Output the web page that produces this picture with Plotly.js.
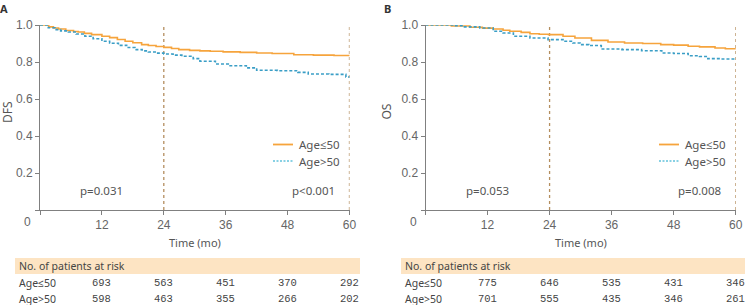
<!DOCTYPE html>
<html>
<head>
<meta charset="utf-8">
<script src="https://cdn.plot.ly/plotly-3.0.1.min.js"></script>
<style>
  html, body { margin: 0; padding: 0; background: #fff; }
  #chart { width: 745px; height: 305px; }
</style>
</head>
<body>
<div id="chart"></div>
<script>
// Kaplan-Meier estimates by age group (months, survival probability)
const dfsYoungT = [0, 1.7, 2.6, 3.6, 5.0, 6.5, 7.4, 8.6, 10.0, 12.0, 13.5, 15.0, 16.5, 18.0, 19.7, 21.0, 22.5, 24.0, 25.5, 26.9, 29.0, 31.0, 33.0, 35.5, 38.8, 42.0, 45.0, 49.2, 53.0, 57.0, 60.0];
const dfsYoungS = [1.0, 0.99, 0.984, 0.978, 0.970, 0.965, 0.962, 0.955, 0.948, 0.939, 0.932, 0.922, 0.912, 0.904, 0.894, 0.889, 0.884, 0.879, 0.873, 0.867, 0.863, 0.86, 0.858, 0.855, 0.852, 0.849, 0.846, 0.839, 0.837, 0.835, 0.834];
const dfsOldT = [0, 1.6, 2.9, 4.0, 5.5, 7.0, 8.7, 10.3, 12.0, 13.5, 15.2, 16.8, 18.4, 19.8, 21.0, 22.5, 24.0, 25.8, 27.5, 29.7, 31.0, 34.0, 36.5, 40.0, 42.0, 46.0, 50.0, 52.0, 56.0, 59.3, 60.0];
const dfsOldS = [1.0, 0.985, 0.975, 0.968, 0.962, 0.951, 0.939, 0.926, 0.912, 0.901, 0.890, 0.878, 0.867, 0.860, 0.854, 0.848, 0.843, 0.837, 0.831, 0.818, 0.804, 0.789, 0.780, 0.768, 0.755, 0.753, 0.744, 0.735, 0.733, 0.719, 0.717];

const osYoungT = [0, 5.0, 8.6, 11.0, 13.1, 15.0, 16.3, 18.5, 20.2, 22.0, 23.8, 26.6, 28.9, 32.1, 35.3, 38.5, 42.0, 45.5, 48.0, 50.8, 53.0, 56.0, 58.0, 60.0];
const osYoungS = [1.0, 0.995, 0.988, 0.983, 0.978, 0.972, 0.966, 0.960, 0.953, 0.950, 0.948, 0.939, 0.930, 0.917, 0.908, 0.903, 0.900, 0.894, 0.891, 0.885, 0.882, 0.876, 0.872, 0.868];
const osOldT = [0, 5.5, 7.3, 10.5, 13.1, 15.0, 17.0, 20.2, 23.7, 26.6, 28.5, 29.9, 31.6, 34.0, 38.0, 41.8, 45.7, 48.0, 50.8, 53.0, 54.6, 57.0, 60.0];
const osOldS = [1.0, 0.996, 0.99, 0.984, 0.966, 0.957, 0.939, 0.930, 0.921, 0.912, 0.903, 0.894, 0.889, 0.870, 0.867, 0.861, 0.849, 0.846, 0.834, 0.830, 0.818, 0.816, 0.815];

const groupNames = ['Age\u226450', 'Age>50'];
const landmarkMonths = [24, 60];
const xTicks = [0, 12, 24, 36, 48, 60];
const yTicks = [0, 0.2, 0.4, 0.6, 0.8, 1.0];
const yTickText = ['', '0.2', '0.4', '0.6', '0.8', '1.0'];
const panelLetters = ['A', 'B'];
const yTitles = ['DFS', 'OS'];
const pValues = [['p=0.031', 'p<0.001'], ['p=0.053', 'p=0.008']];
const riskMonths = [12, 24, 36, 48, 60];
const riskA = [[693, 563, 451, 370, 292], [598, 463, 355, 266, 202]];
const riskB = [[775, 646, 535, 431, 346], [701, 555, 435, 346, 261]];

const W = 745, H = 305;
const px = v => v / W;
const py = v => 1 - v / H;

const ORANGE = '#f6a43c';
const BLUE = '#3a9ec6';
const BLUE_KEY = '#62c2dc';
const GREY = '#555';
const AXIS = '#808080';
const SANS = '"Noto Sans", "Open Sans", sans-serif';
const TICKF = '"Liberation Sans", Arial, sans-serif';
const MONO = '"Liberation Mono", "DejaVu Sans Mono", monospace';

function curve(t, s, color, dash, xa, ya, name) {
  return {
    x: t, y: s, type: 'scatter', mode: 'lines', name: name,
    xaxis: xa, yaxis: ya, showlegend: false, hoverinfo: 'skip',
    line: { color: color, width: 1.6, shape: 'hv', dash: dash }
  };
}

const traces = [
  curve(dfsYoungT, dfsYoungS, ORANGE, 'solid', 'x', 'y', groupNames[0]),
  curve(dfsOldT, dfsOldS, BLUE, '3px,2px', 'x', 'y', groupNames[1]),
  curve(osYoungT, osYoungS, ORANGE, 'solid', 'x2', 'y2', groupNames[0]),
  curve(osOldT, osOldS, BLUE, '3px,2px', 'x2', 'y2', groupNames[1])
];

function xAxis(domain, anchor) {
  return {
    domain: domain, anchor: anchor, range: [0, 60],
    tickvals: xTicks, ticktext: xTicks.map(v => v === 0 ? '' : String(v)),
    ticks: 'outside', ticklen: 4, tickcolor: AXIS, tickwidth: 1,
    showline: true, linecolor: AXIS, linewidth: 1,
    showgrid: false, zeroline: false,
    tickfont: { family: TICKF, size: 12, color: '#666' }, fixedrange: true
  };
}
function yAxis(anchor) {
  return {
    domain: [py(210), py(25)], anchor: anchor, range: [0, 1],
    tickvals: yTicks, ticktext: yTickText,
    ticks: 'outside', ticklen: 4, tickcolor: AXIS, tickwidth: 1,
    showline: true, linecolor: AXIS, linewidth: 1,
    showgrid: false, zeroline: false,
    tickfont: { family: TICKF, size: 12, color: '#666' }, fixedrange: true
  };
}

const shapes = [];
const annotations = [];

// panel geometry in page pixels
const panels = [
  { xa: 'x', ya: 'y', axisX: 40, endX: 349.5, keyX: 273, bandX0: 15, bandX1: 360, labelX: 16.5, titleX: 7, letterX: 4, risk: riskA },
  { xa: 'x2', ya: 'y2', axisX: 425.5, endX: 735.7, keyX: 659, bandX0: 401, bandX1: 760, labelX: 403, titleX: 385.5, letterX: 387, risk: riskB }
];

panels.forEach((p, i) => {
  // landmark reference lines
  landmarkMonths.forEach(m => {
    shapes.push({ type: 'line', xref: p.xa, yref: p.ya, x0: m, x1: m, y0: 0, y1: 1,
      line: { color: '#b48e5e', width: 1.3, dash: 'dot' }, layer: 'below' });
  });
  // legend keys
  shapes.push({ type: 'line', xref: 'paper', yref: 'paper', x0: px(p.keyX), x1: px(p.keyX + 20),
    y0: py(144.5), y1: py(144.5), line: { color: ORANGE, width: 1.8 } });
  shapes.push({ type: 'line', xref: 'paper', yref: 'paper', x0: px(p.keyX), x1: px(p.keyX + 20),
    y0: py(161), y1: py(161), line: { color: BLUE_KEY, width: 1.5, dash: '2px,1.5px' } });
  groupNames.forEach((g, k) => {
    annotations.push({ xref: 'paper', yref: 'paper', x: px(p.keyX + 24), y: py(k === 0 ? 144.5 : 161),
      xanchor: 'left', yanchor: 'middle', text: g, showarrow: false,
      font: { family: SANS, size: 11.5, color: GREY } });
  });
  // p-values
  annotations.push({ xref: p.xa, yref: 'paper', x: 12, y: py(190), xanchor: 'center', yanchor: 'middle',
    text: pValues[i][0], showarrow: false, font: { family: SANS, size: 11.5, color: GREY } });
  annotations.push({ xref: 'paper', yref: 'paper', x: px(p.endX - 13), y: py(190), xanchor: 'right', yanchor: 'middle',
    text: pValues[i][1], showarrow: false, font: { family: SANS, size: 11.5, color: GREY } });
  // origin label
  annotations.push({ xref: 'paper', yref: 'paper', x: px(p.axisX - 12), y: py(222), xanchor: 'center', yanchor: 'middle',
    text: '0', showarrow: false, font: { family: TICKF, size: 12, color: '#666' } });
  // x title
  annotations.push({ xref: p.xa, yref: 'paper', x: 30, y: py(242), xanchor: 'center', yanchor: 'middle',
    text: 'Time (mo)', showarrow: false, font: { family: SANS, size: 11, color: GREY } });
  // y title
  annotations.push({ xref: 'paper', yref: 'paper', x: px(p.titleX), y: py(112), xanchor: 'center', yanchor: 'middle',
    text: yTitles[i], textangle: -90, showarrow: false, font: { family: SANS, size: 12, color: GREY } });
  // panel letter
  annotations.push({ xref: 'paper', yref: 'paper', x: px(p.letterX), y: py(9), xanchor: 'center', yanchor: 'middle',
    text: '<b>' + panelLetters[i] + '</b>', showarrow: false, font: { family: SANS, size: 11, color: '#333' } });
  // number at risk table
  shapes.push({ type: 'rect', xref: 'paper', yref: 'paper', x0: px(p.bandX0), x1: px(p.bandX1),
    y0: py(274), y1: py(258), fillcolor: '#fde4c3', line: { width: 0 }, layer: 'below' });
  annotations.push({ xref: 'paper', yref: 'paper', x: px(p.labelX), y: py(266), xanchor: 'left', yanchor: 'middle',
    text: 'No. of patients at risk', showarrow: false, font: { family: SANS, size: 10.5, color: '#444' } });
  groupNames.forEach((g, k) => {
    const rowY = k === 0 ? 282.7 : 299;
    annotations.push({ xref: 'paper', yref: 'paper', x: px(p.labelX), y: py(rowY), xanchor: 'left', yanchor: 'middle',
      text: g, showarrow: false, font: { family: SANS, size: 10.5, color: '#444' } });
    riskMonths.forEach((m, j) => {
      annotations.push({ xref: p.xa, yref: 'paper', x: m, y: py(rowY), xanchor: 'center', yanchor: 'middle',
        text: String(p.risk[k][j]), showarrow: false, font: { family: MONO, size: 10.5, color: '#444' } });
    });
  });
});

const layout = {
  width: W, height: H,
  margin: { l: 0, r: 0, t: 0, b: 0, pad: 0 },
  paper_bgcolor: '#fff', plot_bgcolor: 'rgba(0,0,0,0)',
  showlegend: false,
  xaxis: xAxis([px(40), px(349.5)], 'y'),
  yaxis: yAxis('x'),
  xaxis2: xAxis([px(425.5), px(735.7)], 'y2'),
  yaxis2: yAxis('x2'),
  shapes: shapes,
  annotations: annotations
};

Plotly.newPlot('chart', traces, layout, { displayModeBar: false, staticPlot: true });
</script>
</body>
</html>
